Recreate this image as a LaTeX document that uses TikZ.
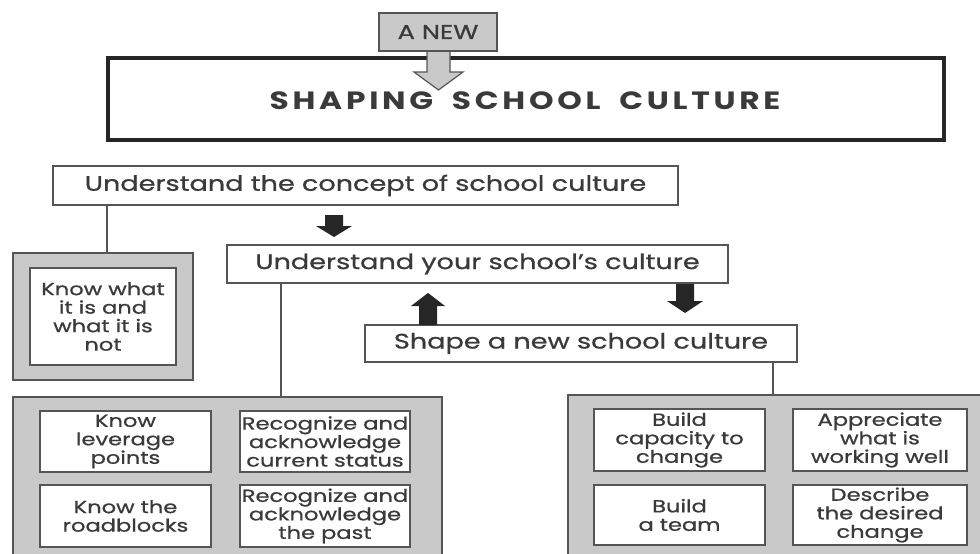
\documentclass[tikz,border=0pt]{standalone}
\usepackage{fontspec}
\setmainfont[FakeStretch=1.29, FakeBold=0.8]{Poppins}
\newfontfamily\titlefont[FakeStretch=1.25, LetterSpace=15, WordSpace=1.8]{Poppins}
\definecolor{txt}{HTML}{3A3A3A}
\definecolor{bord}{HTML}{555555}
\definecolor{panelgray}{HTML}{C9C9C9}
\begin{document}
\begin{tikzpicture}[x=1pt,y=-1pt,
  box/.style={draw=bord, line width=1.5pt, fill=white, inner sep=0pt, text=txt, align=center},
  bigtext/.style={font=\fontsize{21}{24}\selectfont},
  smalltext/.style={font=\fontsize{17.5}{18.5}\selectfont},
  panel/.style={draw=bord, line width=2pt, fill=panelgray, inner sep=0pt},
  conn/.style={draw=bord, line width=1.5pt},
  blk/.style={fill=black!85, draw=none}]
\useasboundingbox (0,0) rectangle (980,554);
\clip (0,0) rectangle (980,554);
\fill[white] (0,0) rectangle (980,554);

% main title box
\node[draw=black!85, line width=4pt, minimum width=836, minimum height=82, inner sep=0pt] (main) at (526,99) {};
\node[text=txt, font=\titlefont\bfseries\fontsize{25}{27}\selectfont] (title) at (525,101) {SHAPING SCHOOL CULTURE};
% A NEW arrow
\filldraw[fill=panelgray, draw=bord, line width=1.2pt] (427,50) -- (427,72) -- (414,72) -- (438.5,90) -- (463,72) -- (450,72) -- (450,50);
\node[draw=bord, line width=1.5pt, fill=panelgray, minimum width=118, minimum height=38, inner sep=0pt, text=txt, font=\fontsize{20}{22}\selectfont] (anew) at (438,32) {A NEW};

% level boxes
\node[box, bigtext, minimum width=625, minimum height=39] (c1) at (365.5,185.5) {Understand the concept of school culture};
\node[box, bigtext, minimum width=501, minimum height=38] (c2) at (477.5,264) {Understand your school's culture};
\node[box, bigtext, minimum width=432, minimum height=37] (c3) at (581,343.5) {Shape a new school culture};

% left panel
\node[panel, minimum width=180, minimum height=127] (lg) at (103,316.5) {};
\node[box, smalltext, minimum width=146, minimum height=97] (lw) at (103,316.5) {Know what\\it is and\\what it is\\not};

% bottom panels
\node[panel, minimum width=429, minimum height=170] (pl) at (227.5,482) {};
\node[panel, minimum width=427, minimum height=170] (pr) at (781.5,480) {};

\node[box, smalltext, minimum width=171, minimum height=61] (bl1) at (125.5,441.5) {Know\\leverage\\points};
\node[box, smalltext, minimum width=170, minimum height=61] (bl2) at (325,441.5) {Recognize and\\acknowledge\\current status};
\node[box, smalltext, minimum width=171, minimum height=62] (bl3) at (125.5,516) {Know the\\roadblocks};
\node[box, smalltext, minimum width=170, minimum height=62] (bl4) at (325,516) {Recognize and\\acknowledge\\the past};

\node[box, smalltext, minimum width=171, minimum height=62] (br1) at (679.5,440) {Build\\capacity to\\change};
\node[box, smalltext, minimum width=174, minimum height=62] (br2) at (880,440) {Appreciate\\what is\\working well};
\node[box, smalltext, minimum width=171, minimum height=60] (br3) at (679.5,515) {Build\\a team};
\node[box, smalltext, minimum width=174, minimum height=60] (br4) at (880,515) {Describe\\the desired\\change};

% connectors
\coordinate (k1) at (107,0);
\coordinate (k2) at (281,0);
\coordinate (k3) at (773,0);
\draw[conn] (c1.south -| k1) -- (lg.north -| k1);
\draw[conn] (c2.south -| k2) -- (pl.north -| k2);
\draw[conn] (c3.south -| k3) -- (pr.north -| k3);

% block arrows
\fill[blk] (325,215) -- (325,226) -- (316,226) -- (334,237) -- (352,226) -- (343,226) -- (343,215) -- cycle;
\fill[blk] (419,325) -- (419,306) -- (411,306) -- (428,293) -- (445,306) -- (437,306) -- (437,325) -- cycle;
\fill[blk] (676,284) -- (676,301) -- (667,301) -- (685,313) -- (703,301) -- (694,301) -- (694,284) -- cycle;
\end{tikzpicture}
\end{document}
